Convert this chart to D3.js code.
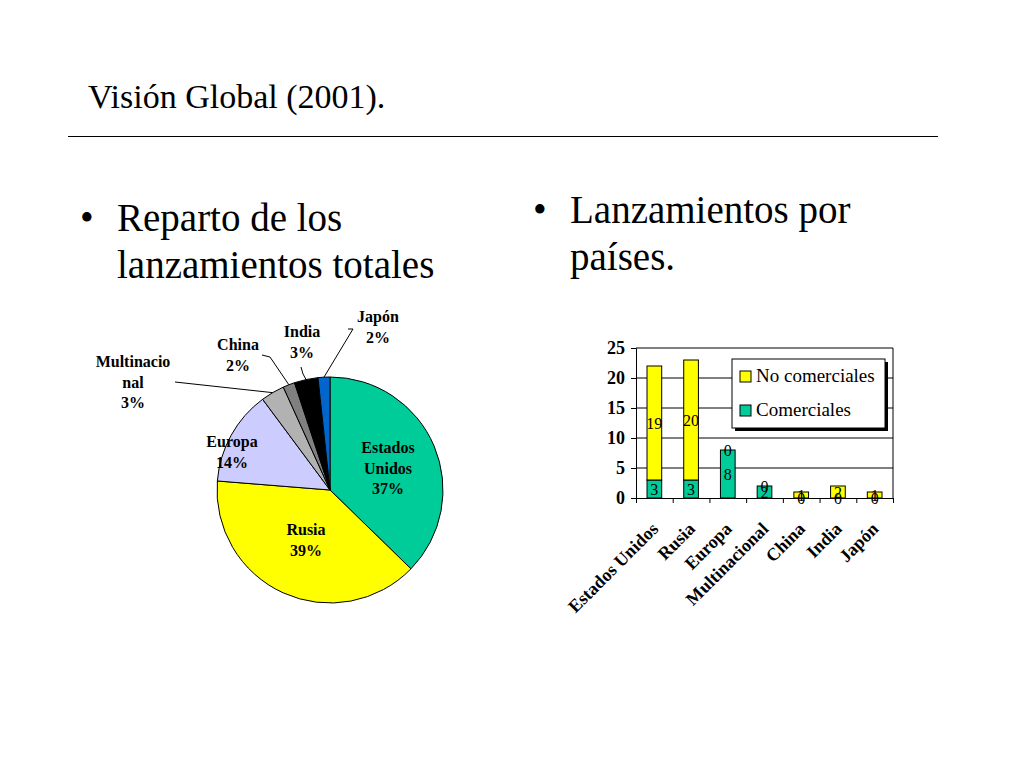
<!DOCTYPE html>
<html>
<head>
<meta charset="utf-8">
<script src="https://cdn.jsdelivr.net/npm/d3@7"></script>
<style>
  body { margin: 0; background: #fff; }
  svg { display: block; }
  text { font-family: "Liberation Serif", "Times New Roman", serif; }
</style>
</head>
<body>
<div id="chart"></div>
<script>
// data
var countries = ["Estados Unidos", "Rusia", "Europa", "Multinacional", "China", "India", "Japón"];
var pieNames = [["Estados", "Unidos"], ["Rusia"], ["Europa"], ["Multinacio", "nal"], ["China"], ["India"], ["Japón"]];
var comerciales = [3, 3, 8, 2, 0, 0, 0];
var noComerciales = [19, 20, 0, 0, 1, 2, 1];
var yTicks = [0, 5, 10, 15, 20, 25];
var seriesNames = ["No comerciales", "Comerciales"];

var pieColors = ["#00cc99", "#ffff00", "#ccccff", "#b2b2b2", "#808080", "#000000", "#0066cc"];
var barColors = {"Comerciales": "#00cc99", "No comerciales": "#ffff00"};

var totals = countries.map(function(c, i) { return comerciales[i] + noComerciales[i]; });
var grand = d3.sum(totals);

var svg = d3.select("#chart").append("svg")
    .attr("width", 1024)
    .attr("height", 768);

// slide title and rule
svg.append("text").attr("x", 88).attr("y", 108)
    .attr("font-size", 34).text("Visión Global (2001).");
svg.append("line").attr("x1", 68).attr("x2", 938).attr("y1", 136.5).attr("y2", 136.5)
    .attr("stroke", "#000").attr("stroke-width", 1.2);

// bullets
function bullet(x, y, lines) {
  svg.append("text").attr("x", x).attr("y", y).attr("font-size", 39).text("•");
  lines.forEach(function(l, i) {
    svg.append("text").attr("x", x + 37).attr("y", y + i * 47)
        .attr("font-size", 39).text(l);
  });
}
bullet(80, 231, ["Reparto de los", "lanzamientos totales"]);
bullet(533, 223, ["Lanzamientos por", "países."]);

// ---------- pie ----------
var cx = 330, cy = 490, r = 113;
var pie = d3.pie().sort(null)(totals);
var arc = d3.arc().innerRadius(0).outerRadius(r);
var edge = d3.arc().innerRadius(r).outerRadius(r);

var gp = svg.append("g").attr("transform", "translate(" + cx + "," + cy + ")");
gp.selectAll("path.slice")
  .data(pie)
  .enter().append("path")
    .attr("class", "slice")
    .attr("d", arc)
    .attr("fill", function(d, i) { return pieColors[i]; })
    .attr("stroke", "#000")
    .attr("stroke-width", 1);

// label placement relative to centre (first baseline)
var labelPos = [[58, -37], [-24, 45], [-98, -43], [-197, -123], [-92, -140], [-28, -153], [48, -168]];
// leader start points (null = label inside)
var leaderPts = [null, null, null, [[-155, -108]], [[-68, -135], [-60, -133]], [[-29, -123], [-27, -116]], [[18, -161], [23, -161]]];

gp.selectAll("path.leader")
  .data(pie.filter(function(d, i) { return leaderPts[i]; }))
  .enter().append("path")
    .attr("class", "leader")
    .attr("fill", "none")
    .attr("stroke", "#000")
    .attr("stroke-width", 1)
    .attr("d", function(d) {
      var pts = leaderPts[d.index].concat([edge.centroid(d)]);
      return d3.line()(pts);
    });

var pct = d3.format(".0%");
pie.forEach(function(d, i) {
  var lines = pieNames[i].concat([pct(d.value / grand)]);
  var t = gp.append("text")
      .attr("text-anchor", "middle")
      .attr("font-size", 16)
      .attr("font-weight", "bold")
      .attr("fill", "#000");
  lines.forEach(function(l, j) {
    t.append("tspan").attr("x", labelPos[i][0]).attr("y", labelPos[i][1] + j * 20.5).text(l);
  });
});

// ---------- stacked bars ----------
var x0 = 636, x1 = 893, y0 = 498, y1 = 348;
var x = d3.scaleBand().domain(countries).range([x0, x1]).paddingInner(0.6).paddingOuter(0.3);
var y = d3.scaleLinear().domain([0, 25]).range([y0, y1]);
var xEdges = d3.scaleLinear().domain([0, countries.length]).range([x0, x1]);

var gb = svg.append("g");

// gridlines
gb.selectAll("line.grid")
  .data(yTicks.filter(function(v) { return v > 0; }))
  .enter().append("line")
    .attr("x1", x0).attr("x2", x1)
    .attr("y1", function(d) { return y(d); }).attr("y2", function(d) { return y(d); })
    .attr("stroke", "#000").attr("stroke-width", 1);
gb.append("line").attr("x1", x1).attr("x2", x1).attr("y1", y1).attr("y2", y0)
    .attr("stroke", "#000").attr("stroke-width", 1);

var rows = countries.map(function(c, i) {
  return {country: c, "Comerciales": comerciales[i], "No comerciales": noComerciales[i]};
});
var stack = d3.stack().keys(["Comerciales", "No comerciales"])(rows);

stack.forEach(function(layer) {
  gb.selectAll("rect.s" + layer.index)
    .data(layer)
    .enter().append("rect")
      .attr("x", function(d) { return x(d.data.country); })
      .attr("width", x.bandwidth())
      .attr("y", function(d) { return y(d[1]); })
      .attr("height", function(d) { return y(d[0]) - y(d[1]); })
      .attr("fill", barColors[layer.key])
      .attr("stroke", "#000")
      .attr("stroke-width", 1);
});
stack.forEach(function(layer) {
  gb.selectAll("text.v" + layer.index)
    .data(layer)
    .enter().append("text")
      .attr("x", function(d) { return x(d.data.country) + x.bandwidth() / 2; })
      .attr("y", function(d) { return y((d[0] + d[1]) / 2); })
      .attr("dy", "0.35em")
      .attr("text-anchor", "middle")
      .attr("font-size", 16)
      .text(function(d) { return d[1] - d[0]; });
});

// y axis
var ya = gb.append("g").attr("transform", "translate(" + x0 + ",0)")
    .call(d3.axisLeft(y).tickValues(yTicks).tickSize(5).tickPadding(6));
ya.select(".domain").attr("stroke", "#000");
ya.selectAll("text").attr("font-size", 18).attr("font-weight", "bold")
    .attr("font-family", "Liberation Serif, Times New Roman, serif").attr("fill", "#000");

// x axis: ticks on band edges, rotated labels at band centres
var xt = gb.append("g").attr("transform", "translate(0," + y0 + ")")
    .call(d3.axisBottom(xEdges).ticks(countries.length).tickSize(5).tickFormat(""));
xt.select(".domain").attr("stroke", "#000");
xt.selectAll("line").attr("stroke", "#000");

var xa = gb.append("g").attr("transform", "translate(0," + y0 + ")")
    .call(d3.axisBottom(x).tickSize(0));
xa.select(".domain").remove();
xa.selectAll("text")
    .attr("x", 0).attr("y", 0).attr("dy", 0)
    .attr("text-anchor", "end")
    .attr("transform", "translate(5,32) rotate(-45)")
    .attr("font-size", 18).attr("font-weight", "bold")
    .attr("font-family", "Liberation Serif, Times New Roman, serif").attr("fill", "#000");

// legend
var lg = gb.append("g").attr("transform", "translate(732,359)");
lg.append("rect").attr("x", 3).attr("y", 3).attr("width", 153).attr("height", 69).attr("fill", "#000");
lg.append("rect").attr("width", 153).attr("height", 69).attr("fill", "#fff")
    .attr("stroke", "#000").attr("stroke-width", 1);
seriesNames.forEach(function(s, i) {
  lg.append("rect").attr("x", 8).attr("y", 12 + i * 34).attr("width", 11).attr("height", 11)
      .attr("fill", barColors[s]).attr("stroke", "#000");
  lg.append("text").attr("x", 24).attr("y", 23 + i * 34).attr("font-size", 19).text(s);
});
</script>
</body>
</html>
